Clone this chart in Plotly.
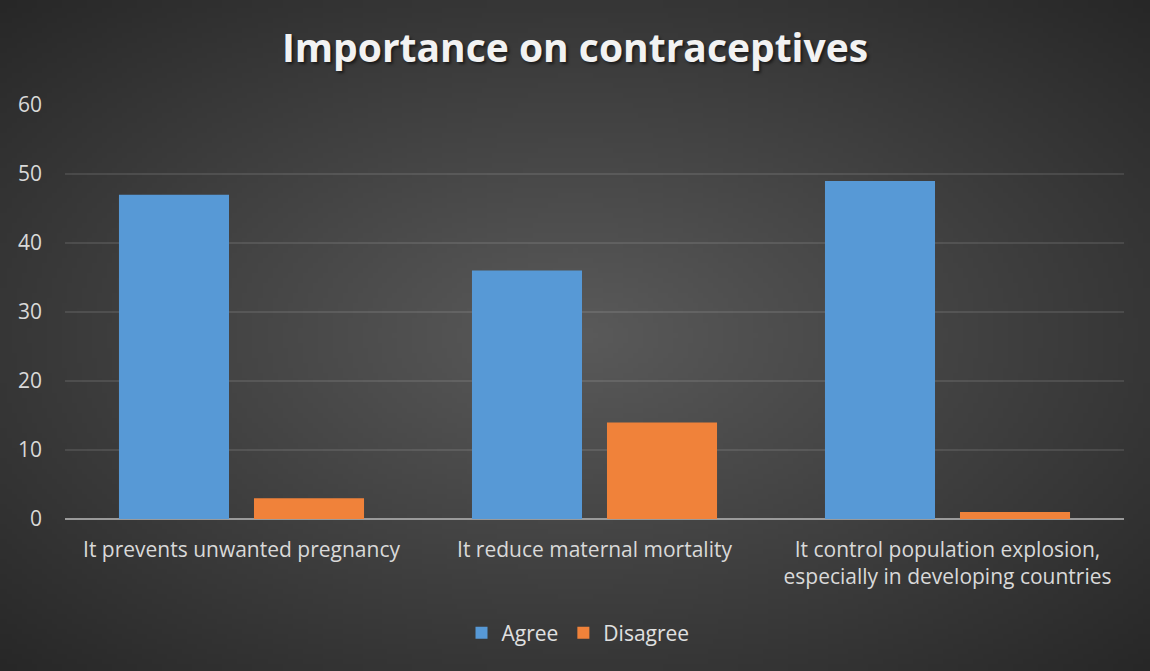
import base64
import struct
import zlib

import plotly.graph_objects as go

# ---- data -------------------------------------------------------------
categories = [
    "It prevents unwanted pregnancy",
    "It reduce maternal mortality",
    "It control population explosion,<br>especially in developing countries",
]
agree = [47, 36, 49]
disagree = [3, 14, 1]
y_ticks = [0, 10, 20, 30, 40, 50, 60]

# ---- figure geometry --------------------------------------------------
W, H = 1150, 671
M_L, M_R, M_T, M_B = 65, 26, 105, 152


def radial_png(w, h, inner, outer):
    """Small PNG with a radial grey gradient (light centre, dark corners)."""
    cx, cy = (w - 1) / 2, (h - 1) / 2
    raw = bytearray()
    for j in range(h):
        raw.append(0)
        for i in range(w):
            dx = (i - cx) / cx
            dy = (j - cy) / cy
            t = min(1.0, ((dx * dx + dy * dy) ** 0.5) / 2 ** 0.5)
            v = int(round(inner + (outer - inner) * t))
            raw.extend((v, v, v))

    def chunk(tag, data):
        return (struct.pack(">I", len(data)) + tag + data
                + struct.pack(">I", zlib.crc32(tag + data) & 0xFFFFFFFF))

    png = b"\x89PNG\r\n\x1a\n"
    png += chunk(b"IHDR", struct.pack(">IIBBBBB", w, h, 8, 2, 0, 0, 0))
    png += chunk(b"IDAT", zlib.compress(bytes(raw), 9))
    png += chunk(b"IEND", b"")
    return "data:image/png;base64," + base64.b64encode(png).decode()


bg_src = radial_png(230, 134, 0x5A, 0x27)

plot_w = W - M_L - M_R
plot_h = H - M_T - M_B

fig = go.Figure()
fig.add_trace(go.Bar(
    name="Agree", x=categories, y=agree,
    marker=dict(color="#5799d6", line=dict(width=0)),
))
fig.add_trace(go.Bar(
    name="Disagree", x=categories, y=disagree,
    marker=dict(color="#f0823a", line=dict(width=0)),
))

fig.update_layout(
    width=W, height=H,
    margin=dict(l=M_L, r=M_R, t=M_T, b=M_B, pad=0),
    paper_bgcolor="#3a3a3a",
    plot_bgcolor="rgba(0,0,0,0)",
    barmode="group",
    bargap=0.235,
    bargroupgap=0.185,
    font=dict(family="Open Sans", color="#d9d9d9", size=21),
    title=dict(
        text="Importance on contraceptives",
        x=0.5, xanchor="center", xref="container",
        y=1 - 48 / H, yanchor="middle",
        font=dict(family="Open Sans", size=39, color="#f2f2f2", weight="bold",
                  shadow="2px 2px 3px rgba(0,0,0,0.55)"),
    ),
    images=[dict(
        source=bg_src, xref="paper", yref="paper",
        x=-M_L / plot_w, y=1 + M_T / plot_h,
        sizex=W / plot_w, sizey=H / plot_h,
        xanchor="left", yanchor="top",
        sizing="stretch", layer="below",
    )],
    legend=dict(
        orientation="h", x=(578 - M_L) / plot_w, xanchor="center",
        y=-(633 - (H - M_B)) / plot_h, yanchor="middle",
        font=dict(size=21, color="#e0e0e0"),
        bgcolor="rgba(0,0,0,0)", itemwidth=30,
    ),
)

fig.update_xaxes(
    showgrid=False, showline=False, ticks="",
    tickfont=dict(size=21, color="#d9d9d9"),
    ticklabelstandoff=16,
)
fig.update_yaxes(
    range=[0, 60], tickvals=y_ticks,
    showgrid=True, gridcolor="rgba(255,255,255,0.10)", gridwidth=2,
    zeroline=True, zerolinecolor="#9a9a9a", zerolinewidth=2,
    showline=False, ticks="",
    tickfont=dict(size=21, color="#d9d9d9"),
    ticklabelstandoff=22,
)

fig.write_html("out.html")
